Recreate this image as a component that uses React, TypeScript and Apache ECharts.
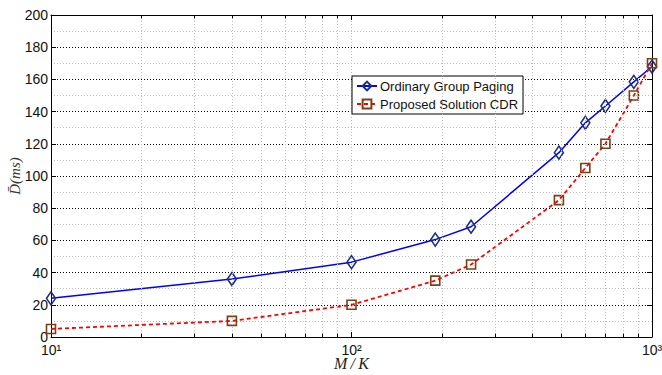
import React, { useEffect, useRef } from "react";
import * as echarts from "echarts";

const xValues = [10, 40, 100, 190, 250, 490, 600, 700, 870, 1000];
const ordinaryPaging = [24, 36, 46.5, 60.5, 68.5, 114.5, 133, 143.5, 158.5, 168];
const proposedCDR = [5, 10, 20, 35, 45, 85, 105, 120, 150, 170];
const minorX = [20, 30, 40, 50, 60, 70, 80, 90, 200, 300, 400, 500, 600, 700, 800, 900];
const seriesNames = ["Ordinary Group Paging", "Proposed Solution CDR"];
const superDigits: Record<string, string> = { "1": "\u00b9", "2": "\u00b2", "3": "\u00b3" };

export default function App() {
  const ref = useRef<HTMLDivElement>(null);
  useEffect(() => {
    const chart = echarts.init(ref.current!, null, { renderer: "svg" });
    const font = "'Liberation Sans', Arial, Helvetica, sans-serif";
    const serif = "'Liberation Serif', 'DejaVu Serif', serif";
    const tickLine = { color: "#000", width: 1 };
    const option: any = {
      animation: false,
      backgroundColor: "#fff",
      grid: { left: 51, top: 15, right: 10, bottom: 38, containLabel: false, outerBoundsMode: "none" },
      legend: {
        orient: "vertical",
        left: 352,
        top: 76,
        padding: [3, 5, 3, 4],
        itemGap: 4,
        itemWidth: 20,
        itemHeight: 11,
        backgroundColor: "#fff",
        borderColor: "#000",
        borderWidth: 1,
        borderRadius: 0,
        data: seriesNames,
        textStyle: { fontFamily: font, fontSize: 13, color: "#111", padding: [0, 0, 0, -2], lineHeight: 14 },
      },
      xAxis: [
        {
          type: "log",
          logBase: 10,
          min: 10,
          max: 1000,
          position: "bottom",
          name: "M\u2009/\u2009K",
          nameLocation: "middle",
          nameGap: 20,
          nameMoveOverlap: false,
          nameTextStyle: { fontFamily: serif, fontStyle: "italic", fontSize: 16, lineHeight: 12, color: "#222" },
          axisLine: { show: true, onZero: false, lineStyle: tickLine },
          axisTick: { show: true, inside: true, length: 5, lineStyle: tickLine },
          axisLabel: {
            show: true,
            margin: 7,
            color: "#111",
            fontFamily: font,
            fontSize: 14,
            lineHeight: 12,
            formatter: (v: number) => {
              const e = String(Math.round(Math.log10(v)));
              return "10" + (superDigits[e] || e);
            },
          },
          splitLine: { show: true, lineStyle: { color: "#bbb", type: [1, 2], width: 1 } },
        },
        {
          type: "log",
          logBase: 10,
          min: 10,
          max: 1000,
          position: "top",
          axisLine: { show: true, onZero: false, lineStyle: tickLine },
          axisTick: { show: true, inside: true, length: 5, lineStyle: tickLine },
          axisLabel: { show: false },
          splitLine: { show: false },
        },
      ],
      yAxis: [
        {
          type: "value",
          min: 0,
          max: 200,
          interval: 20,
          position: "left",
          name: "D\u0304(ms)",
          nameLocation: "middle",
          nameGap: 29,
          nameMoveOverlap: false,
          nameRotate: 90,
          nameTextStyle: { fontFamily: serif, fontStyle: "italic", fontSize: 15, color: "#333" },
          axisLine: { show: true, onZero: false, lineStyle: tickLine },
          axisTick: { show: true, inside: true, length: 5, lineStyle: tickLine },
          axisLabel: { margin: 3, color: "#111", fontFamily: font, fontSize: 14, lineHeight: 12 },
          splitLine: { show: true, lineStyle: { color: "#000", type: [1, 2], width: 1 } },
          minorTick: { show: false, splitNumber: 2 },
          minorSplitLine: { show: true, lineStyle: { color: "#bbb", type: [1, 2], width: 1 } },
        },
        {
          type: "value",
          min: 0,
          max: 200,
          interval: 20,
          position: "right",
          axisLine: { show: true, onZero: false, lineStyle: tickLine },
          axisTick: { show: true, inside: true, length: 5, lineStyle: tickLine },
          axisLabel: { show: false },
          splitLine: { show: false },
        },
      ],
      series: [
        {
          type: "line",
          name: "__grid",
          data: [],
          z: 1,
          silent: true,
          markLine: {
            silent: true,
            symbol: "none",
            animation: false,
            label: { show: false },
            lineStyle: { color: "#bbb", type: [1, 2], width: 1 },
            data: minorX.map((v) => ({ xAxis: v })),
          },
        },
        {
          type: "line",
          name: "__ticks",
          data: [],
          z: 1,
          silent: true,
          markLine: {
            silent: true,
            symbol: "none",
            animation: false,
            label: { show: false },
            lineStyle: { color: "#000", type: "solid", width: 1 },
            data: minorX.flatMap((v) => [
              [{ coord: [v, 0] }, { coord: [v, 2] }],
              [{ coord: [v, 198] }, { coord: [v, 200] }],
            ]),
          },
        },
        {
          type: "line",
          name: seriesNames[0],
          data: xValues.map((x, i) => [x, ordinaryPaging[i]]),
          symbol: "diamond",
          symbolSize: [9, 13],
          showAllSymbol: true,
          lineStyle: { color: "#0000ff", width: 1.5, type: "solid" },
          itemStyle: { color: "rgba(255,255,255,0)", borderColor: "#1c2f7a", borderWidth: 1.6 },
          z: 3,
        },
        {
          type: "line",
          name: seriesNames[1],
          data: xValues.map((x, i) => [x, proposedCDR[i]]),
          symbol: "rect",
          symbolSize: 9,
          showAllSymbol: true,
          lineStyle: { color: "#ff0000", width: 1.8, type: [4, 3] },
          itemStyle: { color: "rgba(255,255,255,0)", borderColor: "#7a3f14", borderWidth: 1.6 },
          z: 4,
        },
      ],
    };
    chart.setOption(option);
    return () => chart.dispose();
  }, []);
  return (
    <div
      ref={ref}
      style={{ position: "fixed", left: 0, top: 0, width: 662, height: 375, background: "#fff" }}
    />
  );
}
